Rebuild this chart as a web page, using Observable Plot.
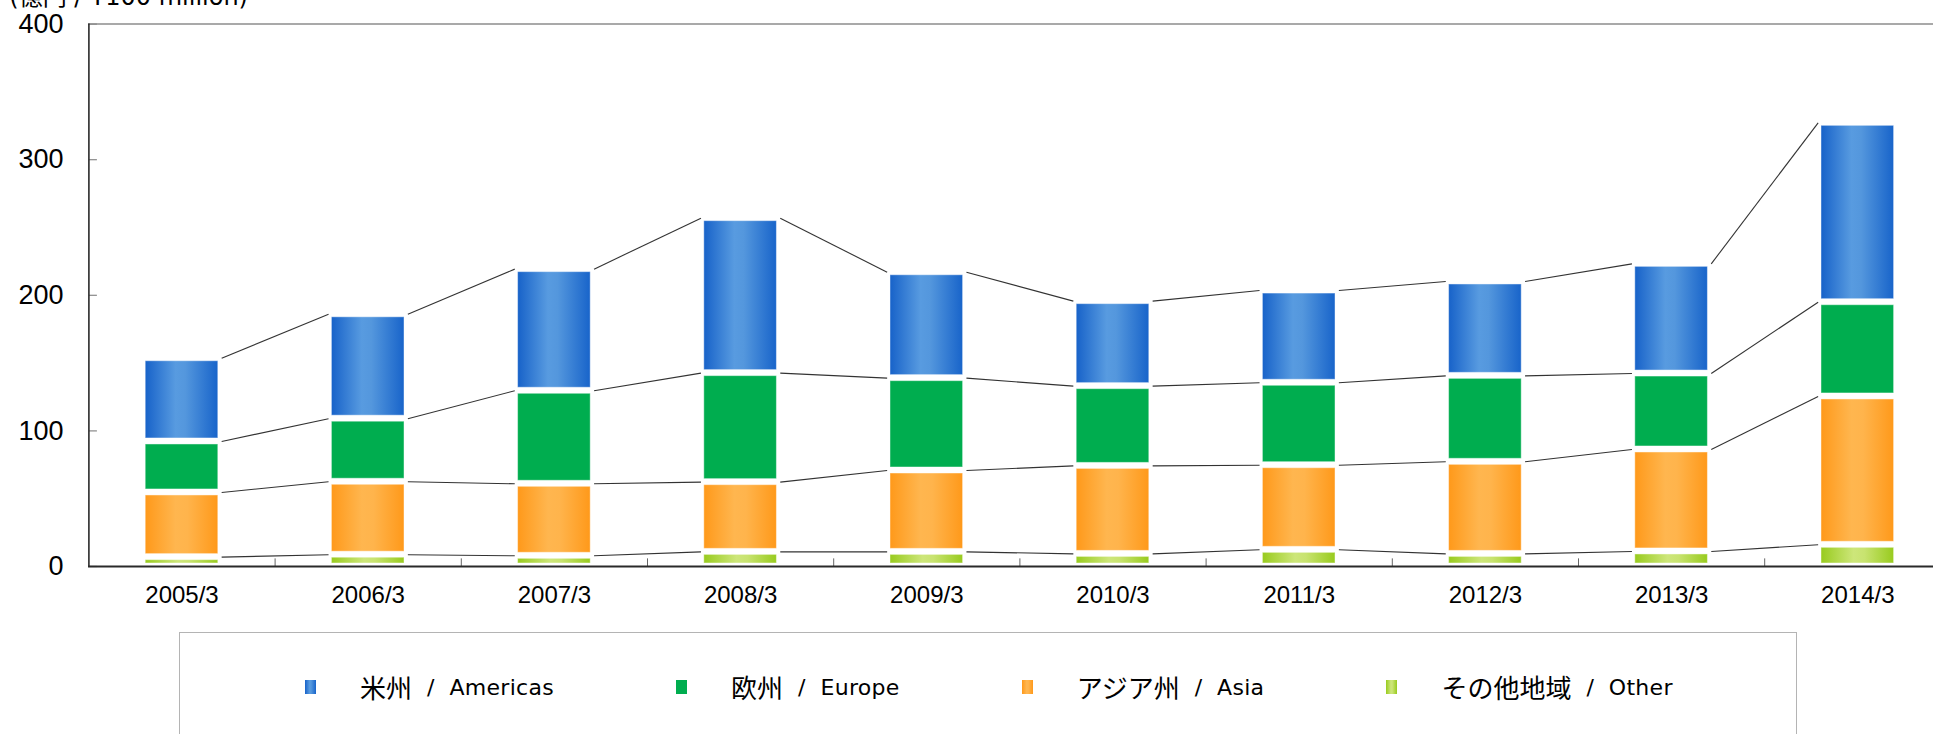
<!DOCTYPE html>
<html>
<head>
<meta charset="utf-8">
<script src="https://cdn.jsdelivr.net/npm/d3@7"></script>
<script src="https://cdn.jsdelivr.net/npm/@observablehq/plot@0.6"></script>
<style>
  html, body { margin: 0; padding: 0; background: #fff; overflow: hidden; }
  #wrap { position: relative; width: 1933px; height: 734px; overflow: hidden; background: #fff; }
  #chart { position: absolute; left: 0; top: 0; }
  #unit { position: absolute; right: 1685px; top: -15px; font-size: 24px; line-height: 24px;
          font-family: "DejaVu Sans", "Noto Sans CJK JP", sans-serif; white-space: nowrap; color: #000; }
  #legend { position: absolute; left: 179px; top: 632px; width: 1618px; height: 200px;
            border: 1px solid #b4b4b4; box-sizing: border-box; background: #fff; }
  #legend .row { position: absolute; left: 125px; top: 40px; height: 28px; display: flex; align-items: center; }
  #legend .item { display: flex; align-items: center; margin-right: 122px; white-space: nowrap; }
  #legend .sw { width: 11px; height: 14px; margin-right: 44px; }
  #legend .jp { font-family: "Noto Sans CJK JP", sans-serif; font-size: 26px; line-height: 28px; }
  #legend .sl { font-family: "DejaVu Sans", sans-serif; font-size: 22px; margin: 0 15px; }
  #legend .en { font-family: "DejaVu Sans", sans-serif; font-size: 22px; letter-spacing: 0.3px; }
</style>
</head>
<body>
<div id="wrap">
  <div id="chart"></div>
  <div id="unit"></div>
  <div id="legend"><div class="row"></div></div>
</div>
<script>
// ---- data ----
const years = ["2005/3", "2006/3", "2007/3", "2008/3", "2009/3", "2010/3", "2011/3", "2012/3", "2013/3", "2014/3"];
const regions = ["米州 / Americas", "欧州 / Europe", "アジア州 / Asia", "その他地域 / Other"];
const americas = [61.4, 77.0, 89.7, 114.3, 78.1, 62.7, 68.0, 69.6, 80.9, 132.3];
const europe   = [37.6, 46.5, 68.6, 80.4, 68.1, 58.8, 60.8, 63.4, 56.0, 69.5];
const asia     = [47.7, 53.8, 53.1, 51.4, 60.0, 64.9, 62.4, 67.9, 75.2, 109.4];
const other    = [6.9, 8.7, 7.9, 10.8, 10.8, 9.3, 12.3, 9.3, 11.1, 16.0];
const yTicks = [0, 100, 200, 300, 400];
const unitLabel = "(億円 / ¥100 million)";

// ---- styles ----
const palette = {
  "米州 / Americas": {id: "gAm", stops: [[0, "#1762c9"], [0.42, "#589be0"], [0.55, "#5497dd"], [1, "#1864ca"]]},
  "欧州 / Europe": {id: "gEu", stops: [[0, "#00ad4f"], [1, "#00ad4f"]]},
  "アジア州 / Asia": {id: "gAs", stops: [[0, "#ff991a"], [0.42, "#ffb64f"], [0.58, "#ffb44c"], [1, "#ff991a"]]},
  "その他地域 / Other": {id: "gOt", stops: [[0, "#98cb1e"], [0.45, "#cde67a"], [0.6, "#c8e370"], [1, "#98cb1e"]]}
};
const HALF = 0.195;   // half bar width (in band units)
const GAP = 0.213;    // connector offset from bar center
const TICKX = 0.043;  // inward y-tick length (index units)
const TICKY = 6;      // inward x-tick length (value units)

// ---- build tables ----
const stackSeries = [other, asia, europe, americas];
const stackNames = [regions[3], regions[2], regions[1], regions[0]];
const segs = [];
const cum = [];
years.forEach((yr, i) => {
  let base = 0;
  cum[i] = [];
  stackSeries.forEach((arr, k) => {
    const top = base + arr[i];
    segs.push({i, region: stackNames[k], y1: base, y2: top});
    cum[i].push(top);
    base = top;
  });
});
const links = [];
for (let i = 0; i < years.length - 1; i++) {
  for (let k = 0; k < stackSeries.length; k++) {
    links.push({xa: i, xb: i + 1, ya: cum[i][k], yb: cum[i + 1][k]});
  }
}
const boundaries = d3.range(years.length - 1).map(i => i + 0.5);

const chart = Plot.plot({
  width: 1933,
  height: 630,
  marginLeft: 88,
  marginRight: 0,
  marginTop: 24,
  marginBottom: 64,
  x: {type: "linear", domain: [-0.5, years.length - 0.5], range: [88.4, 1950.4]},
  y: {domain: [0, 400], range: [566, 23.6]},
  color: {type: "ordinal", domain: regions, range: regions.map(r => `url(#${palette[r].id})`)},
  style: {background: "#fff", color: "#000", fontFamily: "Liberation Sans, Arial, sans-serif"},
  marks: [
    Plot.ruleY([400], {stroke: "#8c8c8c", strokeWidth: 1.5}),
    Plot.link(yTicks, {x1: -0.5, x2: -0.5 + TICKX, y1: d => d, y2: d => d, stroke: "#888", strokeWidth: 1.2}),
    Plot.link(boundaries, {x1: d => d, x2: d => d, y1: 0, y2: TICKY, stroke: "#666", strokeWidth: 1}),
    Plot.rect(segs, {x1: d => d.i - HALF, x2: d => d.i + HALF, y1: "y1", y2: "y2", fill: "region",
      insetTop: 3, insetBottom: 3, stroke: "#ffffff", strokeOpacity: 0.45, strokeWidth: 1}),
    Plot.link(links, {x1: d => d.xa + GAP, x2: d => d.xb - GAP, y1: "ya", y2: "yb", stroke: "#333", strokeWidth: 1.1}),
    Plot.ruleY([0], {stroke: "#2a2a2a", strokeWidth: 1.8}),
    Plot.ruleX([-0.5], {y1: 0, y2: 400, stroke: "#2a2a2a", strokeWidth: 1.6}),
    Plot.axisY(yTicks, {tickSize: 0, tickPadding: 25, fontSize: 27, label: null}),
    Plot.axisX(d3.range(years.length), {tickSize: 0, tickPadding: 19, fontSize: 24, tickFormat: i => years[i], label: null})
  ]
});

// gradients
const ns = "http://www.w3.org/2000/svg";
const defs = document.createElementNS(ns, "defs");
regions.forEach(r => {
  const p = palette[r];
  const lg = document.createElementNS(ns, "linearGradient");
  lg.setAttribute("id", p.id);
  lg.setAttribute("x1", "0"); lg.setAttribute("y1", "0");
  lg.setAttribute("x2", "1"); lg.setAttribute("y2", "0");
  p.stops.forEach(([o, c]) => {
    const s = document.createElementNS(ns, "stop");
    s.setAttribute("offset", o);
    s.setAttribute("stop-color", c);
    lg.appendChild(s);
  });
  defs.appendChild(lg);
});
chart.insertBefore(defs, chart.firstChild);
document.getElementById("chart").appendChild(chart);

document.getElementById("unit").textContent = unitLabel;

// legend
const row = document.querySelector("#legend .row");
regions.forEach(r => {
  const [jp, en] = r.split(" / ");
  const item = document.createElement("div");
  item.className = "item";
  const sw = document.createElement("div");
  sw.className = "sw";
  const stops = palette[r].stops.map(([o, c]) => `${c} ${o * 100}%`).join(", ");
  sw.style.background = `linear-gradient(to right, ${stops})`;
  item.appendChild(sw);
  const a = document.createElement("span"); a.className = "jp"; a.textContent = jp;
  const b = document.createElement("span"); b.className = "sl"; b.textContent = "/";
  const c = document.createElement("span"); c.className = "en"; c.textContent = en;
  item.append(a, b, c);
  row.appendChild(item);
});
</script>
</body>
</html>
